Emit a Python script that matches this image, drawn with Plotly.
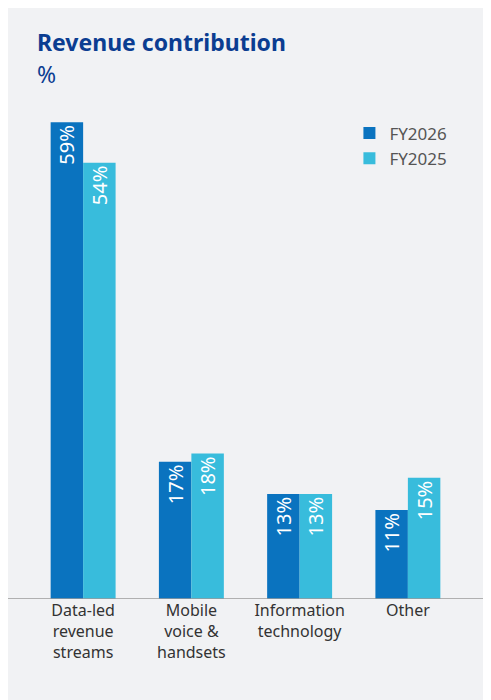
import plotly.graph_objects as go

categories = ["Data-led<br>revenue<br>streams", "Mobile<br>voice &<br>handsets", "Information<br>technology", "Other"]
fy2026 = [59, 17, 13, 11]
fy2025 = [54, 18, 13, 15]

fig = go.Figure()
for name, vals, col in [("FY2026", fy2026, "#0a73bf"), ("FY2025", fy2025, "#38bcdc")]:
    fig.add_trace(go.Bar(
        x=categories, y=vals, name=name, marker_color=col, marker_line_width=0,
        text=[f"{v}%" for v in vals], textposition="inside", insidetextanchor="end",
        textangle=-90, textfont=dict(color="white", size=20, family="Noto Sans"),
        cliponaxis=False,
    ))

fig.update_layout(
    width=491, height=700, barmode="group", bargap=0.4, bargroupgap=0,
    paper_bgcolor="#f1f2f4", plot_bgcolor="#f1f2f4",
    margin=dict(l=21, r=37, t=90, b=109),
    font=dict(family="Noto Sans", color="#333333"),
    uniformtext=dict(minsize=20, mode="show"),
    xaxis=dict(tickfont=dict(size=16, color="#333333"), showline=False, ticks=""),
    yaxis=dict(range=[0, 62], visible=False),
    legend=dict(x=0.74, y=0.965, xanchor="left", yanchor="top", bgcolor="rgba(0,0,0,0)",
                font=dict(size=17, color="#555555")),
    shapes=[dict(type="line", xref="paper", yref="y", x0=-0.07, x1=1.07, y0=0, y1=0,
                 line=dict(color="#9a9a9a", width=1.5))],
    annotations=[
        dict(text="<b>Revenue contribution</b>", xref="paper", yref="paper", x=0.0, y=1.0,
             xanchor="left", yanchor="bottom", showarrow=False, yshift=38, xshift=6,
             font=dict(size=23, color="#0b3d91")),
        dict(text="%", xref="paper", yref="paper", x=0.0, y=1.0,
             xanchor="left", yanchor="bottom", showarrow=False, yshift=6, xshift=6,
             font=dict(size=23, color="#0b3d91")),
    ],
)
fig.write_html("out.html")
